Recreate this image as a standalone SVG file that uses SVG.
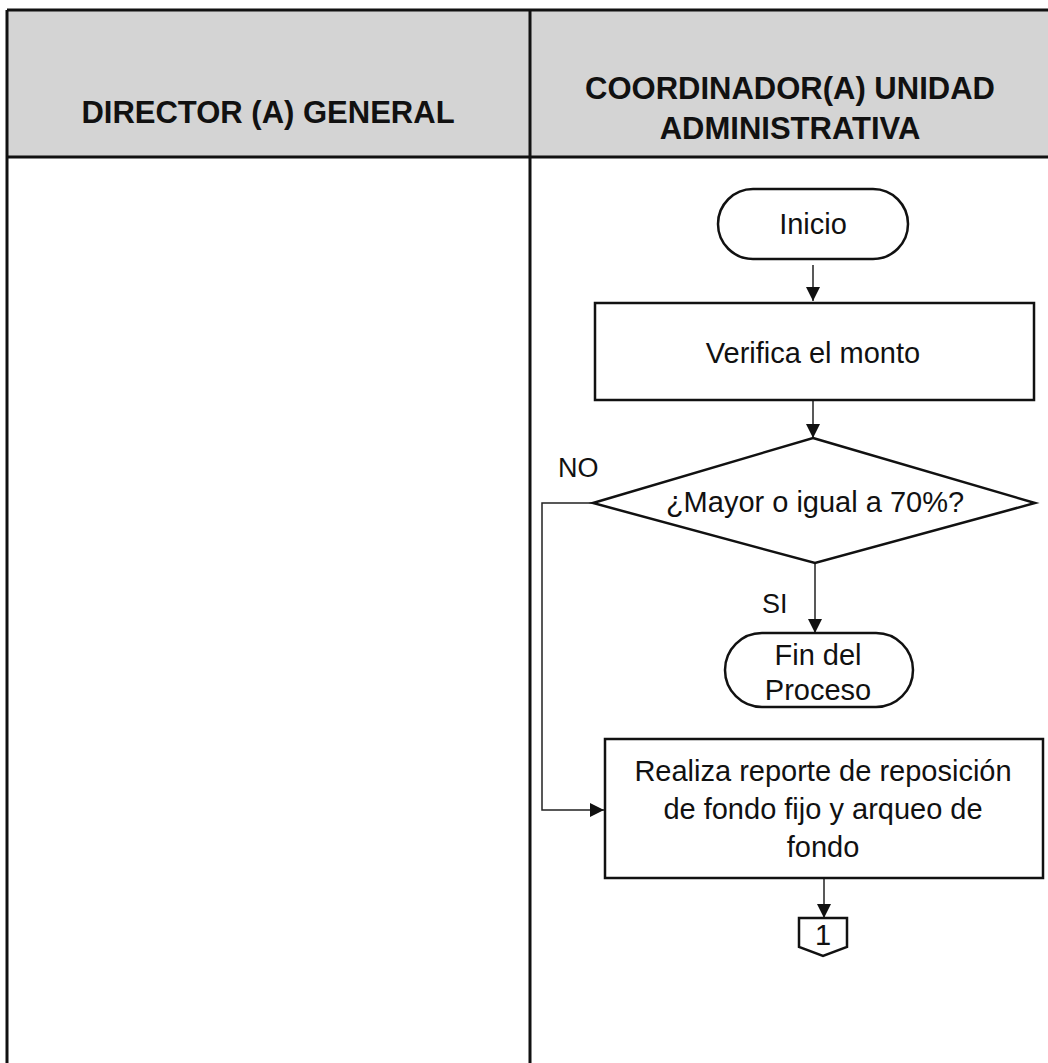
<svg xmlns="http://www.w3.org/2000/svg" width="1048" height="1063" viewBox="0 0 1048 1063">
  <style>
    .lane { fill: none; stroke: #111; stroke-width: 3; }
    .hdr { font-family: "Liberation Sans", Arial, sans-serif; font-weight: bold; font-size: 31px; fill: #111; text-anchor: middle; }
    .shape { fill: #fff; stroke: #111; stroke-width: 2.5; }
    .txt { font-family: "Liberation Sans", Arial, sans-serif; font-size: 29px; fill: #111; text-anchor: middle; }
    .lbl { font-family: "Liberation Sans", Arial, sans-serif; font-size: 27px; fill: #111; }
    .conn { fill: none; stroke: #222; stroke-width: 1.5; }
  </style>
  <defs>
    <marker id="arrL" viewBox="0 0 10 10" refX="10" refY="5" markerWidth="15" markerHeight="14" markerUnits="userSpaceOnUse" orient="auto">
      <path d="M0,0 L10,5 L0,10 z" fill="#111"/>
    </marker>
  </defs>
  <rect width="1048" height="1063" fill="#fff"/>
  <g id="lanes">
    <rect x="7" y="10" width="1048" height="147" fill="#d4d4d4"/>
    <line class="lane" x1="7" y1="10" x2="1048" y2="10"/>
    <line class="lane" x1="7" y1="157" x2="1048" y2="157"/>
    <line class="lane" x1="7" y1="10" x2="7" y2="1063"/>
    <line class="lane" x1="530" y1="10" x2="530" y2="1063"/>
    <text class="hdr" x="268" y="123">DIRECTOR (A) GENERAL</text>
    <text class="hdr" x="790" y="99">COORDINADOR(A) UNIDAD</text>
    <text class="hdr" x="790" y="139">ADMINISTRATIVA</text>
  </g>
  <g id="connectors">
    <line class="conn" x1="813" y1="265" x2="813" y2="301" marker-end="url(#arrL)"/>
    <line class="conn" x1="813" y1="400" x2="813" y2="438" marker-end="url(#arrL)"/>
    <line class="conn" x1="815" y1="563" x2="815" y2="633" marker-end="url(#arrL)"/>
    <polyline class="conn" points="593,503 542,503 542,810 604,810" marker-end="url(#arrL)"/>
    <line class="conn" x1="824" y1="878" x2="824" y2="918" marker-end="url(#arrL)"/>
    <text class="lbl" x="558" y="477">NO</text>
    <text class="lbl" x="762" y="613">SI</text>
  </g>
  <g id="inicio">
    <rect class="shape" x="718" y="189" width="190" height="70" rx="35" ry="35"/>
    <text class="txt" x="813" y="234">Inicio</text>
  </g>
  <g id="verifica">
    <rect class="shape" x="595" y="303" width="439" height="97"/>
    <text class="txt" x="813" y="363">Verifica el monto</text>
  </g>
  <g id="decision">
    <polygon class="shape" points="813,438 1035,503 815,563 593,503"/>
    <text class="txt" x="815" y="512">¿Mayor o igual a 70%?</text>
  </g>
  <g id="fin">
    <rect class="shape" x="725" y="633" width="188" height="74" rx="37" ry="37"/>
    <text class="txt" x="818" y="665">Fin del</text>
    <text class="txt" x="818" y="700">Proceso</text>
  </g>
  <g id="realiza">
    <rect class="shape" x="605" y="739" width="438" height="139"/>
    <text class="txt" x="823" y="781">Realiza reporte de reposición</text>
    <text class="txt" x="823" y="819">de fondo fijo y arqueo de</text>
    <text class="txt" x="823" y="857">fondo</text>
  </g>
  <g id="conector1">
    <polygon class="shape" points="799,918 847,918 847,947 823,956 799,947"/>
    <text class="txt" x="823" y="945">1</text>
  </g>
</svg>
